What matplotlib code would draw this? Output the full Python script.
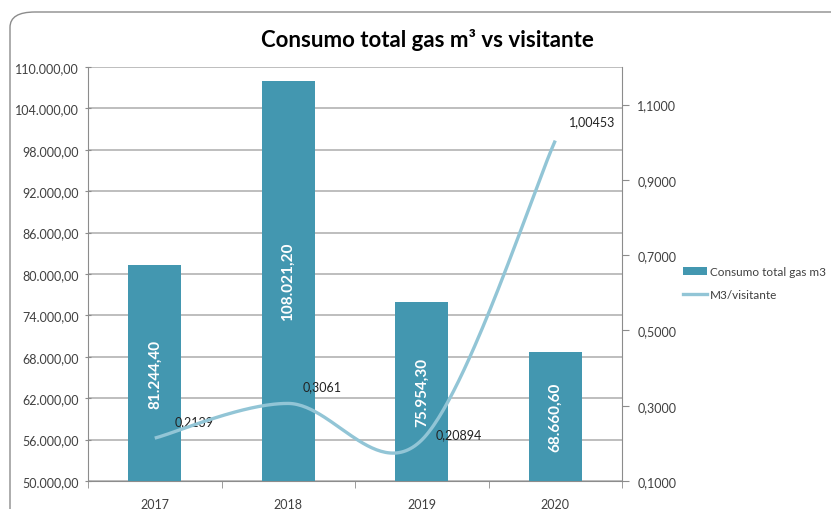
import numpy as np
import matplotlib
matplotlib.use("Agg")
import matplotlib.pyplot as plt
from matplotlib.patches import FancyBboxPatch, Patch
from matplotlib.lines import Line2D
from matplotlib.ticker import FuncFormatter

years = ["2017", "2018", "2019", "2020"]
gas = [81244.40, 108021.20, 75954.30, 68660.60]
ratio = [0.2139, 0.3061, 0.20894, 1.00453]
gas_labels = ["81.244,40", "108.021,20", "75.954,30", "68.660,60"]
ratio_labels = ["0,2139", "0,3061", "0,20894", "1,00453"]
title = "Consumo total gas m³ vs visitante"

FONT = "Lato"
plt.rcParams["font.family"] = [FONT, "DejaVu Sans"]

BAR_C = "#4397B0"
LINE_C = "#92C5D6"
GRID_C = "#B3B3B3"
AX_C = "#8C8C8C"
TXT_C = "#404040"

fig = plt.figure(figsize=(8.31, 5.10), dpi=100)
# rounded chart border
border = FancyBboxPatch((10 / 831, -0.2), 1.2, (510 - 13) / 510 + 0.2,
                        boxstyle="round,pad=0,rounding_size=0.03",
                        transform=fig.transFigure, facecolor="white",
                        edgecolor="#8C8C8C", linewidth=1.0, zorder=0)
fig.patches.append(border)

ax = fig.add_axes([88 / 831, 28 / 510, 534 / 831, 414 / 510])
ax.set_zorder(1)
ax.patch.set_visible(False)
x = np.arange(len(years))
bars = ax.bar(x, gas, width=0.4, color=BAR_C, zorder=3)
ax.set_xlim(-0.5, len(years) - 0.5)
ax.set_ylim(50000, 110000)
ax.set_yticks(np.arange(50000, 110001, 6000))
ax.yaxis.set_major_formatter(FuncFormatter(
    lambda v, p: f"{v:,.2f}".replace(",", "X").replace(".", ",").replace("X", ".")))
ax.grid(axis="y", color=GRID_C, linewidth=1.2, zorder=0)
ax.set_axisbelow(True)
for s in ["top", "right"]:
    ax.spines[s].set_visible(False)
for s in ["left", "bottom"]:
    ax.spines[s].set_color(AX_C)
ax.set_xticks(x)
ax.set_xticklabels(years)
ax.set_xticks(np.arange(-0.5, len(years)), minor=True)
ax.tick_params(axis="x", which="major", length=0, pad=12, labelsize=9, labelcolor=TXT_C)
ax.tick_params(axis="x", which="minor", length=5, color=AX_C, direction="out")
ax.tick_params(axis="y", length=5, color=AX_C, direction="inout", labelsize=9,
               labelcolor=TXT_C, pad=4)

for xi, v, lab in zip(x, gas, gas_labels):
    ax.text(xi, (max(v, 50000) + 50000) / 2, lab, rotation=90, ha="center",
            va="center", color="white", fontsize=11, fontweight="bold", zorder=5)

ax2 = ax.twinx()
ax2.set_zorder(2)
ax2.set_ylim(0.1, 1.2)
ax2.set_yticks(np.arange(0.1, 1.11, 0.2))
ax2.yaxis.set_major_formatter(FuncFormatter(lambda v, p: f"{v:.4f}".replace(".", ",")))
for s in ["top", "left", "bottom"]:
    ax2.spines[s].set_visible(False)
ax2.spines["right"].set_color(AX_C)
ax2.tick_params(axis="y", length=5, color=AX_C, direction="out", labelsize=9,
                labelcolor=TXT_C, pad=6)

# smoothed line (Bezier through data points, like spreadsheet smoothing)
P = np.column_stack([x.astype(float), np.array(ratio)])
ext = np.vstack([P[0], P, P[-1]])
xs, ys = [], []
t = np.linspace(0, 1, 60)
for i in range(len(P) - 1):
    p0, p1, p2, p3 = ext[i], ext[i + 1], ext[i + 2], ext[i + 3]
    c1 = p1 + (p2 - p0) / 6
    c2 = p2 - (p3 - p1) / 6
    pts = ((1 - t) ** 3)[:, None] * p1 + (3 * (1 - t) ** 2 * t)[:, None] * c1 + \
          (3 * (1 - t) * t ** 2)[:, None] * c2 + (t ** 3)[:, None] * p2
    xs.extend(pts[:, 0]); ys.extend(pts[:, 1])
ax2.plot(xs, ys, color=LINE_C, linewidth=2.4, solid_capstyle="butt", zorder=4)

offsets = [(14, 8), (10, 8), (10, 0), (10, 10)]
for xi, v, lab, off in zip(x, ratio, ratio_labels, offsets):
    ax2.annotate(lab, (xi, v), xytext=off, textcoords="offset points",
                 ha="left", va="bottom", fontsize=9, color="#222222")

fig.text(427 / 831, 1 - 40 / 510, title, ha="center", va="center",
         fontsize=16, fontweight="bold", color="black")

handles = [Patch(facecolor=BAR_C, edgecolor="none"),
           Line2D([0], [0], color=LINE_C, linewidth=2.4)]
fig.legend(handles, ["Consumo total gas m3", "M3/visitante"],
           loc="center left", bbox_to_anchor=(683 / 831, 1 - 284 / 510),
           frameon=False, fontsize=8.5, handlelength=2.0, handletextpad=0.25,
           labelspacing=1.0, labelcolor=TXT_C, borderpad=0, borderaxespad=0)

fig.savefig("out.png", dpi=100)
